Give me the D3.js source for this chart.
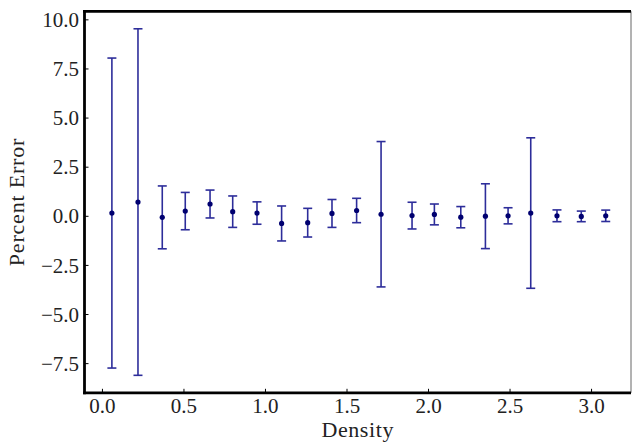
<!DOCTYPE html>
<html><head><meta charset="utf-8">
<script src="https://cdn.jsdelivr.net/npm/d3@7"></script>
<style>body{margin:0;background:#fff}svg{display:block}</style>
</head><body>
<script>
const density = [0.061,0.221,0.370,0.511,0.663,0.802,0.951,1.102,1.262,1.411,1.562,1.712,1.902,2.039,2.201,2.352,2.491,2.630,2.791,2.940,3.090];
const percentError = [0.14,0.70,-0.08,0.24,0.60,0.21,0.14,-0.39,-0.35,0.12,0.27,0.08,0.01,0.07,-0.07,-0.02,0.0,0.14,0.0,-0.03,0.0];
const errorSize = [7.89,8.82,1.60,0.95,0.71,0.80,0.57,0.89,0.73,0.71,0.62,3.70,0.68,0.53,0.54,1.65,0.41,3.83,0.30,0.27,0.29];
const xTicks = [0.0,0.5,1.0,1.5,2.0,2.5,3.0];
const yTicks = [-7.5,-5.0,-2.5,0.0,2.5,5.0,7.5,10.0];

const FONT='"Liberation Serif", "Times New Roman", Tinos, "DejaVu Serif", serif';
const W=632,H=442;
const L=84.5,R=631,T=11.3,B=392.8;
const svg=d3.select("body").append("svg").attr("width",W).attr("height",H);
const x=d3.scaleLinear().domain([-0.107,3.245]).range([L,R]);
const y=d3.scaleLinear().domain([-9.01,10.41]).range([B,T]);
const fmt=v=>(v<0?"\u2212":"")+Math.abs(v).toFixed(1);

const xa=svg.append("g").attr("transform",`translate(0,${B})`)
  .call(d3.axisBottom(x).tickValues(xTicks).tickSizeInner(-4).tickSizeOuter(0).tickFormat(fmt));
xa.attr("font-family",FONT).attr("font-size",21);
xa.select(".domain").remove();
xa.selectAll("line").attr("stroke","#000").attr("stroke-width",1);
xa.selectAll("text").style("font-family",FONT).attr("font-size",21).attr("dy",null).attr("y",20.5).attr("fill","#222");

const ya=svg.append("g").attr("transform",`translate(${L},0)`)
  .call(d3.axisLeft(y).tickValues(yTicks).tickSizeInner(-4).tickSizeOuter(0).tickFormat(fmt));
ya.attr("font-family",FONT).attr("font-size",21);
ya.select(".domain").remove();
ya.selectAll("line").attr("stroke","#000").attr("stroke-width",1);
ya.selectAll("text").style("font-family",FONT).attr("font-size",21).attr("x",-5.5).attr("dy","0.34em").attr("fill","#222");

const data=density.map((d,i)=>({x:d,y:percentError[i],e:errorSize[i]}));
const g=svg.append("g");
const col="#2d2d9a";
g.selectAll(".v").data(data).join("line")
  .attr("x1",d=>x(d.x)).attr("x2",d=>x(d.x))
  .attr("y1",d=>y(d.y+d.e)).attr("y2",d=>y(d.y-d.e))
  .attr("stroke",col).attr("stroke-width",1.6);
["+","-"].forEach(s=>{
  g.append("g").selectAll("line").data(data).join("line")
   .attr("x1",d=>x(d.x)-4.5).attr("x2",d=>x(d.x)+4.5)
   .attr("y1",d=>y(s=="+"?d.y+d.e:d.y-d.e)).attr("y2",d=>y(s=="+"?d.y+d.e:d.y-d.e))
   .attr("stroke",col).attr("stroke-width",1.6);
});
g.selectAll("circle").data(data).join("circle")
  .attr("cx",d=>x(d.x)).attr("cy",d=>y(d.y)).attr("r",2.6).attr("fill","#000070");

svg.append("line").attr("x1",R).attr("x2",R).attr("y1",T).attr("y2",B).attr("stroke","#666").attr("stroke-width",1);
svg.append("line").attr("x1",L-1.4).attr("x2",R).attr("y1",T).attr("y2",T).attr("stroke","#000").attr("stroke-width",2.8);
svg.append("line").attr("x1",L-1.4).attr("x2",R).attr("y1",B).attr("y2",B).attr("stroke","#000").attr("stroke-width",2.8);
svg.append("line").attr("x1",L).attr("x2",L).attr("y1",T-1.4).attr("y2",B+1.4).attr("stroke","#000").attr("stroke-width",2.8);

svg.append("text").style("font-family",FONT).style("letter-spacing","0.6px").attr("fill","#222").attr("x",(L+R)/2).attr("y",437).attr("text-anchor","middle").attr("font-size",22).text("Density");
svg.append("text").style("font-family",FONT).style("letter-spacing","0.8px").attr("fill","#222").attr("transform",`translate(24,${(T+B)/2}) rotate(-90)`).attr("text-anchor","middle").attr("font-size",22).text("Percent Error");
</script>
</body></html>
